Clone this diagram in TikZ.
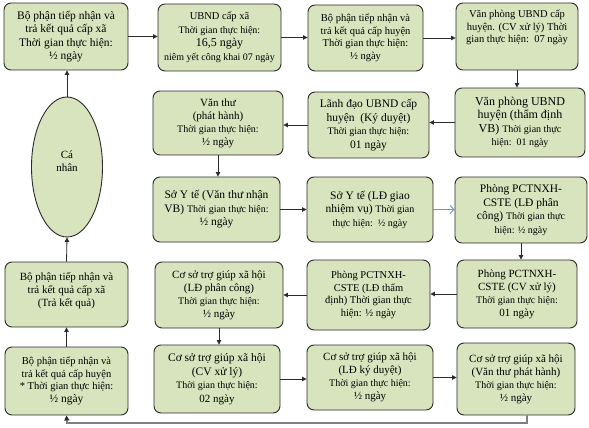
\documentclass[tikz,border=0pt]{standalone}
\usepackage{fontspec}
\setmainfont{Liberation Serif}
\usetikzlibrary{arrows.meta,shapes.geometric}
\definecolor{boxfill}{HTML}{D7E4BD}
\definecolor{boxline}{HTML}{2B2B2B}
\definecolor{bluearr}{HTML}{5B9BD5}
\definecolor{grayline}{HTML}{7F7F7F}
\newcommand\fxa{\fontsize{11.5}{13.5}\selectfont}
\newcommand\fxb{\fontsize{10.5}{12.5}\selectfont}
\newcommand\fxc{\fontsize{12}{13.5}\selectfont}
\newcommand\fxs{\fontsize{10}{12.5}\selectfont}
\newcommand\fxm{\fontsize{11}{13}\selectfont}
\newcommand\bxnode[7][]{\node[box,#1,minimum width={(#5)-(#3)},minimum height={(#6)-(#4)}] (#2) at ({((#3)+(#5))/2},{((#4)+(#6))/2}) {#7};}
\tikzset{
  box/.style={draw=boxline,fill=boxfill,rounded corners=7pt,line width=0.9pt,align=center,inner sep=0pt,font=\fxa},
  arr/.style={draw=boxline,line width=0.8pt,-{Triangle[length=4.5pt,width=4.5pt]}},
  barr/.style={draw=bluearr,line width=0.8pt,-{Straight Barb[length=4pt,width=8pt]}},
  garr/.style={draw=grayline,line width=1.8pt,-{Triangle[length=5pt,width=5pt,fill=boxline,color=boxline]}}
}
\begin{document}
\begin{tikzpicture}[x=1pt,y=-1pt]
\useasboundingbox (0,0) rectangle (589,428);
% row 1
\bxnode{b1}{4}{3}{128}{70}{Bộ phận tiếp nhận và\\ trả kết quả cấp xã\\ Thời gian thực hiện:\\ ½ ngày}
\bxnode{b2}{158}{4}{281}{71}{{\fxb UBND cấp xã}\\ {\fxs Thời gian thực hiện:}\\ {\fxc 16,5 ngày}\\ {\fxs niêm yết công khai 07 ngày}}
\bxnode[font=\fxb]{b3}{308}{5}{423}{71}{Bộ phận tiếp nhận và\\ trả kết quả cấp huyện\\ Thời gian thực hiện:\\ ½ ngày}
\bxnode[font=\fxb,text depth=20pt]{b4}{456}{3}{578}{70}{Văn phòng UBND cấp\\ huyện. (CV xử lý) Thời\\ gian thực hiện:\ \ 07 ngày}
% row 2
\bxnode[font=\fxc]{vp}{455}{88}{585}{157}{Văn phòng UBND\\ huyện (thẩm định\\ VB) {\fxs Thời gian thực}\\ {\fxs hiện:\ \ 01 ngày}}
\bxnode{ld}{308}{92}{429}{158}{Lãnh đạo UBND cấp\\ huyện\ \ (Ký duyệt)\\ {\fxs Thời gian thực hiện:}\\ 01 ngày}
\bxnode[font=\fxm]{vt}{153}{91}{283}{155}{Văn thư\\ (phát hành)\\ {\fxs Thời gian thực hiện:}\\ ½ ngày}
% row 3
\bxnode{s1}{153}{177}{280}{242}{Sở Y tế (Văn thư nhận\\ VB) {\fxs Thời gian thực hiện:}\\ ½ ngày}
\bxnode{s2}{307}{177}{433}{242}{Sở Y tế (LĐ giao\\ nhiệm vụ) {\fxs Thời gian}\\ {\fxs thực hiện:\ \ ½ ngày}}
\bxnode{pld}{455}{177}{587}{243}{Phòng PCTNXH-\\ CSTE (LĐ phân\\ công) {\fxs Thời gian thực}\\ {\fxs hiện: ½ ngày}}
% row 4
\bxnode[font=\fxm]{pcv}{457}{260}{577}{328}{Phòng PCTNXH-\\ CSTE (CV xử lý)\\ {\fxs Thời gian thực hiện:}\\ 01 ngày}
\bxnode[font=\fxb]{ptd}{307}{260}{430}{330}{Phòng PCTNXH-\\ CSTE (LĐ thẩm\\ định) Thời gian thực\\ hiện: ½ ngày}
\bxnode[font=\fxm]{cs1}{155}{262}{283}{328}{Cơ sở trợ giúp xã hội\\ (LĐ phân công)\\ {\fxs Thời gian thực hiện:}\\ ½ ngày}
\bxnode[font=\fxm,text depth=10pt]{tkq}{5}{262}{128}{327}{Bộ phận tiếp nhận và\\ trả kết quả cấp xã\\ (Trả kết quả)}
% row 5
\bxnode[font=\fxb]{bh}{5}{347}{128}{415}{Bộ phận tiếp nhận và\\ trả kết quả cấp huyện\\ * Thời gian thực hiện:\\ {\fxa ½ ngày}}
\bxnode{cs2}{154}{345}{280}{413}{Cơ sở trợ giúp xã hội\\ (CV xử lý)\\ {\fxs Thời gian thực hiện:}\\ {\fxm 02 ngày}}
\bxnode[font=\fxm]{cs3}{307}{345}{433}{410}{Cơ sở trợ giúp xã hội\\ (LĐ ký duyệt)\\ {\fxs Thời gian thực hiện:}\\ ½ ngày}
\bxnode[font=\fxm]{cs4}{457}{343}{575}{415}{Cơ sở trợ giúp xã hội\\ (Văn thư phát hành)\\ {\fxs Thời gian thực hiện:}\\ ½ ngày}
% ellipse
\node[ellipse,draw=boxline,fill=boxfill,line width=0.9pt,minimum width=71pt,minimum height=140pt,inner sep=0pt,align=center,font=\fxm,text depth=12pt] (cn) at (67,167) {Cá\\nhân};
% connectors
\coordinate (g1) at (527,423);
\coordinate (g2) at (67,423);
\draw[arr] (b1.east) -- (b1.east -| b2.west);
\draw[arr] (b2.east) -- (b2.east -| b3.west);
\draw[arr] (b3.east) -- (b3.east -| b4.west);
\draw[arr] (b4.south) -- (b4.south |- vp.north);
\draw[arr] (vp.west) -- (vp.west -| ld.east);
\draw[arr] (ld.west) -- (ld.west -| vt.east);
\draw[arr] (vt.south) -- (vt.south |- s1.north);
\draw[arr] (s1.east) -- (s1.east -| s2.west);
\draw[barr] (s2.east) -- (s2.east -| pld.west);
\draw[arr] (pld.south) -- (pld.south |- pcv.north);
\draw[arr] (pcv.west) -- (pcv.west -| ptd.east);
\draw[arr] (ptd.west) -- (ptd.west -| cs1.east);
\draw[arr] (cs1.south) -- (cs1.south |- cs2.north);
\draw[arr] (cs2.east) -- (cs2.east -| cs3.west);
\draw[arr] (cs3.east) -- (cs3.east -| cs4.west);
\draw[garr] (cs4.south -| g1) -- (g1) -- (g2) -- (bh.south);
\draw[arr] (bh.north) -- (tkq.south);
\draw[arr] (tkq.north) -- (cn.south);
\draw[arr] (cn.north) -- (b1.south -| cn.north);
\end{tikzpicture}
\end{document}
